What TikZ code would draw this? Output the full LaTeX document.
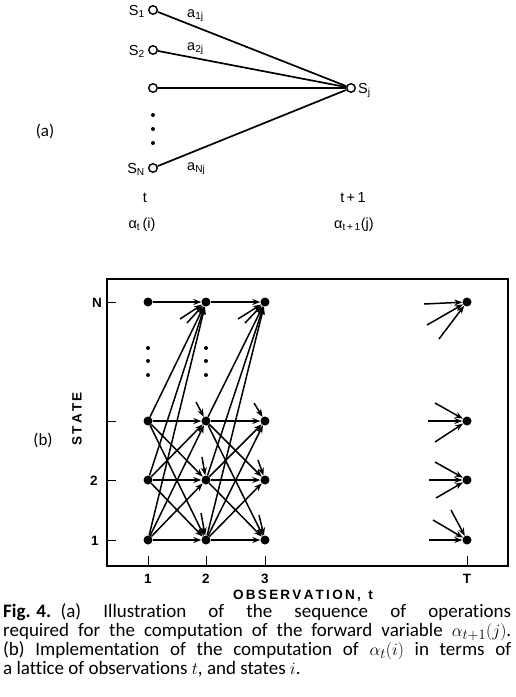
\documentclass[tikz,border=0pt]{standalone}
\usepackage{fontspec}
\setmainfont[Ligatures=CommonOff]{Carlito}
\newfontfamily\lettr{Liberation Sans}
\usetikzlibrary{arrows.meta}
\begin{document}
\begin{tikzpicture}[x=1pt,y=-1pt,
  opencirc/.style={circle,draw,line width=1.4pt,fill=white,inner sep=0pt,minimum size=8.5pt},
  ldot/.style={circle,fill,inner sep=0pt,minimum size=9pt},
  sdot/.style={circle,fill,inner sep=0pt,minimum size=4pt},
  edge/.style={line width=1.7pt},
  arr/.style={line width=1.5pt,-{Stealth[length=8pt,width=6pt]}},
  lab/.style={font=\lettr\fontsize{14.5}{16}\selectfont,inner sep=0pt},
  axlab/.style={font=\lettr\bfseries\fontsize{13.5}{15}\selectfont,inner sep=0pt},
  part/.style={font=\fontsize{17}{19}\selectfont,inner sep=0pt}]
\useasboundingbox (0,0) rectangle (515,697);
% ---------- part (a)
\node[part] (pa) at (45,131) {(a)};
\node[opencirc] (s1) at (153,10) {};
\node[opencirc] (s2) at (153,50) {};
\node[opencirc] (s3) at (153,88) {};
\node[opencirc] (sN) at (153,168) {};
\node[opencirc] (sj) at (351,88) {};
\draw[edge] (s1) -- (sj);
\draw[edge] (s2) -- (sj);
\draw[edge] (s3) -- (sj);
\draw[edge] (sN) -- (sj);
\node[sdot] (ea1) at (153,115) {};
\node[sdot] (ea2) at (153,129) {};
\node[sdot] (ea3) at (153,143) {};
\node[lab,anchor=base east] (ls1) at (145,15) {S\textsubscript{1}};
\node[lab,anchor=base east] (ls2) at (145,55) {S\textsubscript{2}};
\node[lab,anchor=base east] (lsN) at (145,173) {S\textsubscript{N}};
\node[lab,anchor=base west] (lsj) at (358,93) {S\textsubscript{j}};
\node[lab,anchor=base west] (a1j) at (187,17) {a\textsubscript{1j}};
\node[lab,anchor=base west] (a2j) at (187,50) {a\textsubscript{2j}};
\node[lab,anchor=base west] (aNj) at (187,170) {a\textsubscript{Nj}};
\node[lab] (lt) at (145,198) {t};
\node[lab] (lt1) at (353,198) {t\,+\,1};
\node[lab] (al) at (142,225) {α\textsubscript{t}\,(i)};
\node[lab] (al1) at (354,225) {α\textsubscript{t\,+\,1}(j)};
% ---------- part (b)
\node[part] (pb) at (43,440) {(b)};
\draw[line width=1.2pt] (107,279) rectangle (508,566);
\foreach \yy in {302,421,480,540} \draw[line width=1pt] (107,\yy) -- (116,\yy);
\foreach \xx in {148,206,265,467} \draw[line width=1pt] (\xx,566) -- (\xx,556);
\node[axlab] (yN) at (97,303) {N};
\node[axlab] (y2) at (94,481) {2};
\node[axlab] (y1) at (95,541) {1};
\node[axlab,rotate=90] (ylab) at (77,419) {S\,T\,A\,T\,E};
\node[axlab] (x1) at (148,579) {1};
\node[axlab] (x2) at (206,579) {2};
\node[axlab] (x3) at (265,579) {3};
\node[axlab] (xT) at (467,579) {T};
\node[axlab] (xlab) at (303,596) {O\,B\,S\,E\,R\,V\,A\,T\,I\,O\,N\,,\ \ t};
\foreach \c/\xx in {1/148,2/206,3/265,T/467}{
  \node[ldot] (c\c rN) at (\xx,302) {};
  \node[ldot] (c\c r3) at (\xx,421) {};
  \node[ldot] (c\c r2) at (\xx,480) {};
  \node[ldot] (c\c r1) at (\xx,540) {};
}
\foreach \yy in {348,361,375}{
  \node[sdot] at (148,\yy) {};
  \node[sdot] at (206,\yy) {};
}
\foreach \a/\b in {1/2,2/3}{
  \draw[arr] (c\a rN) -- (c\b rN);
  \foreach \i in {1,2,3}
    \foreach \j in {1,2,3,N}
      \draw[arr] (c\a r\i) -- (c\b r\j);
}
% stubs from unseen states
\coordinate (u2a) at (180,319);
\coordinate (u2b) at (187,323);
\coordinate (u3a) at (238,319);
\coordinate (u3b) at (245,323);
\coordinate (v2) at (196,402);
\coordinate (v3) at (254,403);
\coordinate (w2) at (202,457);
\coordinate (w3) at (258,460);
\coordinate (z2) at (201,513);
\coordinate (z3) at (259,515);
\draw[arr] (u2a) -- (c2rN);
\draw[arr] (u2b) -- (c2rN);
\draw[arr] (u3a) -- (c3rN);
\draw[arr] (u3b) -- (c3rN);
\draw[arr] (v2) -- (c2r3);
\draw[arr] (v3) -- (c3r3);
\draw[arr] (w2) -- (c2r2);
\draw[arr] (w3) -- (c3r2);
\draw[arr] (z2) -- (c2r1);
\draw[arr] (z3) -- (c3r1);
% column T
\coordinate (tN1) at (424,304);
\coordinate (tN2) at (427,325);
\coordinate (tN3) at (439,339);
\coordinate (t31) at (428,421);
\coordinate (t32) at (435,403);
\coordinate (t33) at (435,442);
\coordinate (t21) at (429,480);
\coordinate (t22) at (435,462);
\coordinate (t23) at (436,498);
\coordinate (t11) at (429,540);
\coordinate (t12) at (433,520);
\coordinate (t13) at (451,510);
\foreach \r in {N,3,2,1}
  \foreach \k in {1,2,3}
    \draw[arr] (t\r\k) -- (cTr\r);
% ---------- caption
\node[anchor=north west,inner sep=0pt,text width=508pt,align=justify,
  font=\fontsize{19}{19}\selectfont] (cap) at (3,603)
 {{\bfseries Fig.\kern0.3em4.}\enspace(a) Illustration of the sequence of operations\linebreak
 required for the computation of the forward variable $\alpha_{t+1}(j)$.\linebreak
 (b) Implementation of the computation of $\alpha_t(i)$ in terms of\linebreak
 a lattice of observations $t$, and states $i$.};
\end{tikzpicture}
\end{document}
